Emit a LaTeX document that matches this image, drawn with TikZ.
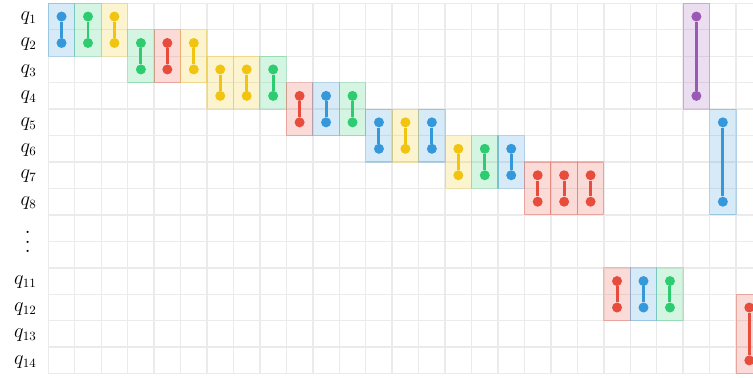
\documentclass[tikz,border=0pt]{standalone}
\usepackage{amsmath,amssymb}
\usepackage{xcolor}
\usepackage{tikz}
\usetikzlibrary{positioning}

\definecolor{qblue}{HTML}{3498DB}
\definecolor{qgreen}{HTML}{2ECC71}
\definecolor{qyellow}{HTML}{F1C40F}
\definecolor{qred}{HTML}{E74C3C}
\definecolor{qpurple}{HTML}{9B59B6}

\begin{document}
\begin{tikzpicture}[
  x=0.661cm, y=-0.661cm,
  every node/.style={font=\fontsize{13.5}{16}\selectfont},
  cellline/.style={draw=gray!16, line width=1pt},
  gatebox/.style={fill=#1, fill opacity=0.2, draw=#1, draw opacity=0.3, line width=0.8pt},
  qdot/.style={circle, fill=#1, inner sep=0pt, minimum size=0.25cm},
  link/.style={draw=#1, line width=2.1pt}
]
\useasboundingbox (-1.826,-0.125) rectangle (26.64,14.15);

% grid
\foreach \i in {0,...,26} \draw[cellline] (\i,0) -- (\i,14);
\foreach \j in {0,...,14} \draw[cellline] (0,\j) -- (26.64,\j);

% qubit labels
\foreach \r/\lab in {0/1,1/2,2/3,3/4,4/5,5/6,6/7,7/8,10/11,11/12,12/13,13/14}
  \node (q\lab) [anchor=base east, inner sep=0pt] at (-0.43,\r+0.64) {$q_{\lab}$};
\node (qdots) [inner sep=0pt, font=\fontsize{19}{20}\selectfont] at (-0.78,9.02)
  {\vbox{\baselineskip=7pt\lineskiplimit=0pt\hbox{.}\hbox{.}\hbox{.}}};

% gates: column/top row/bottom row/colour
\foreach \c/\a/\b/\col in {
    0/0/1/qblue, 1/0/1/qgreen, 2/0/1/qyellow,
    3/1/2/qgreen, 4/1/2/qred, 5/1/2/qyellow,
    6/2/3/qyellow, 7/2/3/qyellow, 8/2/3/qgreen,
    9/3/4/qred, 10/3/4/qblue, 11/3/4/qgreen,
    12/4/5/qblue, 13/4/5/qyellow, 14/4/5/qblue,
    15/5/6/qyellow, 16/5/6/qgreen, 17/5/6/qblue,
    18/6/7/qred, 19/6/7/qred, 20/6/7/qred,
    21/10/11/qred, 22/10/11/qblue, 23/10/11/qgreen,
    24/0/3/qpurple, 25/4/7/qblue, 26/11/13/qred}{
  \path[gatebox=\col] (\c,\a) rectangle (\c+1,\b+1);
  \node (g\c a) [qdot=\col] at (\c+0.5,\a+0.5) {};
  \node (g\c b) [qdot=\col] at (\c+0.5,\b+0.5) {};
  \draw[link=\col] (g\c a) -- (g\c b);
}
\end{tikzpicture}
\end{document}
